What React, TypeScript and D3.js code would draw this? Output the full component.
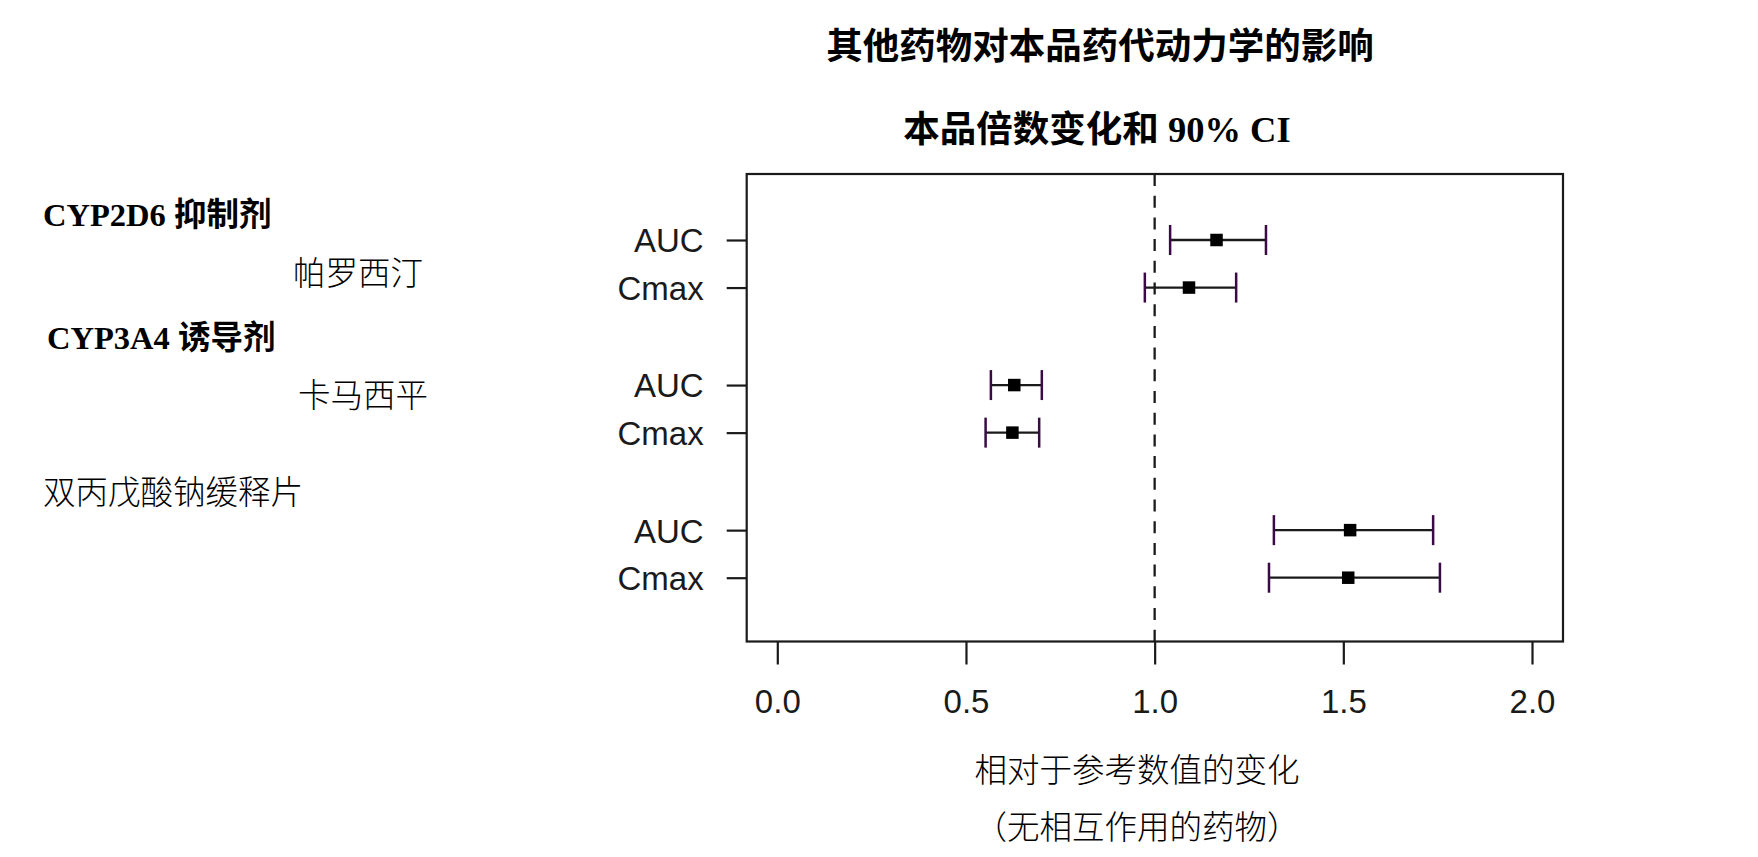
import { useRef, useEffect } from 'react'
import * as d3 from 'd3'

// rows from top to bottom; slot = position on the y axis (gaps between drug groups)
const METRICS = ['AUC', 'Cmax', 'AUC', 'Cmax', 'AUC', 'Cmax']
const SLOTS = [0, 1, 3.05, 4.05, 6.1, 7.1]
const RATIO = [1.164, 1.091, 0.628, 0.623, 1.518, 1.513]
const LOWER = [1.041, 0.974, 0.566, 0.552, 1.316, 1.303]
const UPPER = [1.295, 1.216, 0.701, 0.694, 1.738, 1.756]
const X_TICKS = [0, 0.5, 1, 1.5, 2]
const REF_LINE = 1

const TITLE = ['其他药物对本品药代动力学的影响', '本品倍数变化和 90% CI']
const X_TITLE = ['相对于参考数值的变化', '（无相互作用的药物）']
const GROUP_HEADS = ['CYP2D6 抑制剂', 'CYP3A4 诱导剂']
const DRUGS = ['帕罗西汀', '卡马西平', '双丙戊酸钠缓释片']

const W = 1758
const H = 857
const INK = '#1a1a1a'
const CAP = '#3a0a44'
const SERIF = '"Liberation Serif", "Noto Sans CJK SC", serif'
const SANS = '"Liberation Sans", Arial, sans-serif'
const CJK = '"Noto Sans CJK SC", sans-serif'

export default function App() {
  const svgRef = useRef<SVGSVGElement>(null)

  useEffect(() => {
    if (!svgRef.current) return
    const svg = d3.select(svgRef.current)
    svg.selectAll('*').remove()

    const box = { left: 746.7, right: 1563, top: 174, bottom: 641.5 }
    const x = d3.scaleLinear().domain([0, 2]).range([777.3, 1532])
    const y = d3.scaleLinear().domain([0, 7.1]).range([240, 577.7])

    const rows = METRICS.map((m, i) => ({
      metric: m, slot: SLOTS[i], ratio: RATIO[i], lo: LOWER[i], hi: UPPER[i],
    }))

    // titles
    TITLE.forEach((t, i) => {
      svg.append('text')
        .attr('x', i === 0 ? 1100 : 1097).attr('y', i === 0 ? 59 : 142)
        .attr('text-anchor', 'middle')
        .attr('font-family', SERIF).attr('font-weight', 'bold')
        .attr('font-size', 36.5).attr('fill', '#000')
        .text(t)
    })

    // left side labels
    const heads = [{ x: 43, y: 226 }, { x: 47, y: 349 }]
    GROUP_HEADS.forEach((t, i) => {
      svg.append('text')
        .attr('x', heads[i].x).attr('y', heads[i].y)
        .attr('font-family', SERIF).attr('font-weight', 'bold')
        .attr('font-size', 32.5).attr('fill', '#000')
        .text(t)
    })
    const drugPos = [{ x: 293, y: 285 }, { x: 298, y: 407 }, { x: 43, y: 504 }]
    DRUGS.forEach((t, i) => {
      svg.append('text')
        .attr('x', drugPos[i].x).attr('y', drugPos[i].y)
        .attr('font-family', CJK).attr('font-weight', 300)
        .attr('font-size', 32.5).attr('fill', '#000')
        .text(t)
    })

    // plot box
    svg.append('rect')
      .attr('x', box.left).attr('y', box.top)
      .attr('width', box.right - box.left).attr('height', box.bottom - box.top)
      .attr('fill', 'none').attr('stroke', INK).attr('stroke-width', 2.2)

    // x axis
    const xAxis = svg.append('g')
      .attr('transform', `translate(0,${box.bottom})`)
      .call(d3.axisBottom(x).tickValues(X_TICKS).tickSize(23).tickPadding(25)
        .tickFormat(d => d3.format('.1f')(Number(d))))
    xAxis.select('.domain').remove()
    xAxis.selectAll('line').attr('stroke', INK).attr('stroke-width', 2.2)
    xAxis.selectAll('text')
      .attr('fill', INK).attr('font-size', 33).attr('font-family', SANS)

    // y axis
    const yAxis = svg.append('g')
      .attr('transform', `translate(${box.left},0)`)
      .call(d3.axisLeft(y).tickValues(SLOTS).tickSize(20).tickPadding(23)
        .tickFormat((_, i) => METRICS[i]))
    yAxis.select('.domain').remove()
    yAxis.selectAll('line').attr('stroke', INK).attr('stroke-width', 2.2)
    yAxis.selectAll('text')
      .attr('fill', INK).attr('font-size', 33).attr('font-family', SANS)
      .attr('dy', '0.36em')

    // reference line
    svg.append('line')
      .attr('x1', x(REF_LINE)).attr('x2', x(REF_LINE))
      .attr('y1', box.top).attr('y2', box.bottom)
      .attr('stroke', INK).attr('stroke-width', 2.3)
      .attr('stroke-dasharray', '12,9.7')

    // CI bars
    const g = svg.append('g')
    g.selectAll('line.ci')
      .data(rows).enter().append('line')
      .attr('class', 'ci')
      .attr('x1', d => x(d.lo)).attr('x2', d => x(d.hi))
      .attr('y1', d => y(d.slot)).attr('y2', d => y(d.slot))
      .attr('stroke', INK).attr('stroke-width', 2.3)

    const capH = 30
    ;(['lo', 'hi'] as const).forEach(k => {
      g.selectAll(`line.cap-${k}`)
        .data(rows).enter().append('line')
        .attr('class', `cap-${k}`)
        .attr('x1', d => x(d[k])).attr('x2', d => x(d[k]))
        .attr('y1', d => y(d.slot) - capH / 2).attr('y2', d => y(d.slot) + capH / 2)
        .attr('stroke', CAP).attr('stroke-width', 2.5)
    })

    const sz = 12.5
    g.selectAll('rect.pt')
      .data(rows).enter().append('rect')
      .attr('class', 'pt')
      .attr('x', d => x(d.ratio) - sz / 2).attr('y', d => y(d.slot) - sz / 2)
      .attr('width', sz).attr('height', sz)
      .attr('fill', '#000')

    // x title
    X_TITLE.forEach((t, i) => {
      svg.append('text')
        .attr('x', 1137).attr('y', i === 0 ? 782 : 839)
        .attr('text-anchor', 'middle')
        .attr('font-family', CJK).attr('font-weight', 300)
        .attr('font-size', 32.5).attr('fill', '#000')
        .text(t)
    })
  }, [])

  return (
    <svg
      ref={svgRef}
      width={W}
      height={H}
      style={{ position: 'absolute', left: 0, top: 0, background: '#fff', display: 'block' }}
    />
  )
}
